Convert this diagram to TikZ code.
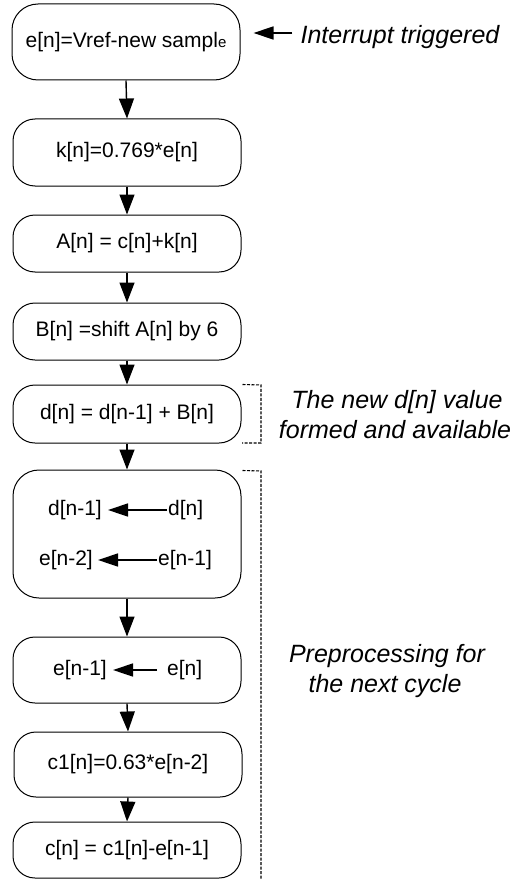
\documentclass[tikz,border=0pt]{standalone}
\usepackage{fontspec}
\setmainfont{Liberation Sans}
\usetikzlibrary{arrows.meta}
\begin{document}
\begin{tikzpicture}[x=1pt,y=-1pt,
  box/.style={draw, line width=1pt, rounded corners=22pt, minimum width=228pt, inner sep=0pt, font=\fontsize{21}{25}\selectfont},
  lbl/.style={font=\fontsize{21}{25}\selectfont, inner sep=0pt},
  note/.style={font=\fontsize{25}{30}\selectfont\itshape, inner sep=0pt, anchor=base},
  flow/.style={line width=1.4pt, -{Triangle[length=20pt,width=15pt]}},
  hflow/.style={line width=1.4pt, -{Triangle[length=20pt,width=13pt]}},
  bracket/.style={line width=1.1pt, dash pattern=on 3pt off 1.5pt}]
\useasboundingbox (0,0) rectangle (521,880);

\node[box, minimum height=76pt, rounded corners=26pt] (b1) at (126,42) {e[n]=Vref-new sampl{\fontsize{15}{15}\selectfont e}};
\node[box, minimum height=67pt] (b2) at (127,152.5) {k[n]=0.769*e[n]};
\node[box, minimum height=57pt] (b3) at (127,243.5) {A[n] = c[n]+k[n]};
\node[box, minimum height=57pt] (b4) at (127,331.5) {B[n] =shift A[n] by 6};
\node[box, minimum height=58pt] (b5) at (127,414) {d[n] = d[n-1] + B[n]};
\node[box, minimum height=128pt, rounded corners=26pt] (b6) at (127,534) {};
\node[box, minimum height=66pt] (b7) at (127,670) {};
\node[box, minimum height=65pt] (b8) at (128,764.5) {c1[n]=0.63*e[n-2]};
\node[box, minimum height=56pt] (b9) at (127,850) {c[n] = c1[n]-e[n-1]};

\draw[flow] (b1.south) -- (b2.north);
\draw[flow] (b2.south) -- (b3.north);
\draw[flow] (b3.south) -- (b4.north);
\draw[flow] (b4.south) -- (b5.north);
\draw[flow] (b5.south) -- (b6.north);
\draw[flow] (b6.south) -- (b7.north);
\draw[flow] (b7.south) -- (b8.north);
\draw[flow] (b8.south) -- (b9.north);

% inner assignments
\node[lbl, anchor=east] (dn1) at (102,510) {d[n-1]};
\node[lbl, anchor=west] (dn) at (168,510) {d[n]};
\draw[hflow, shorten >=6pt, shorten <=1pt] (dn.west) -- (dn1.east);
\node[lbl, anchor=east] (en2) at (93,560) {e[n-2]};
\node[lbl, anchor=west] (en1) at (158,560) {e[n-1]};
\draw[hflow, shorten >=5pt, shorten <=1pt] (en1.west) -- (en2.east);
\node[lbl, anchor=east] (fn1) at (107,670) {e[n-1]};
\node[lbl, anchor=west] (fn) at (167,670) {e[n]};
\draw[hflow, shorten >=6pt, shorten <=10pt] (fn.west) -- (fn1.east);

% notes
\node[note] (intr) at (400,44) {Interrupt triggered};
\draw[hflow, shorten >=13pt, shorten <=8pt] (intr.west |- b1.center) ++(0,-9) coordinate (it) (it) -- (b1.east |- it);
\node[note] (n1a) at (397,408) {The new d[n] value};
\node[note] (n1b) at (395,438) {formed and available};
\node[note] (n2a) at (387,662) {Preprocessing for};
\node[note] (n2b) at (385,692) {the next cycle};

% brackets
\draw[bracket] (b5.north east) ++(1,0) -- (261,385) -- (261,443) -- (242,443);
\draw[bracket] (b6.north east) ++(1,1) -- (261,471) -- (261,880);
\end{tikzpicture}
\end{document}
